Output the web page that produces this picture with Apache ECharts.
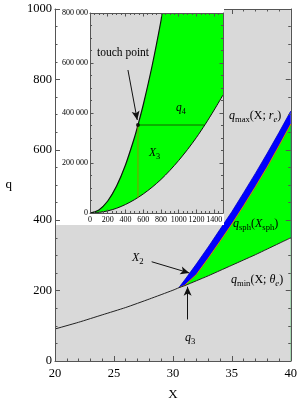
<!DOCTYPE html>
<html><head><meta charset="utf-8">
<script src="https://cdn.jsdelivr.net/npm/echarts@6/dist/echarts.min.js"></script>
<style>html,body{margin:0;padding:0;background:#fff}#c{width:300px;height:406px}</style>
</head><body><div id="c"></div>
<script>
// ---- main chart data ----
const mainXTicks = [20, 25, 30, 35, 40];
const mainQTicks = [0, 200, 400, 600, 800, 1000];
const mainX = [20, 22, 24, 26, 28, 30, 30.5, 31, 32, 33, 34, 35, 36, 37, 38, 39, 40];
const qMin  = [91, 110, 131, 152, 176, 201, 208, 214, 228, 242, 257, 272, 287, 302, 318, 334, 350];
const bandX = [30.5, 31, 32, 33, 34, 35, 36, 37, 38, 39, 40];
const qMax  = [208, 230, 276, 324, 374, 424, 478, 533, 590, 649, 710];
const qSph  = [208, 215, 246, 292, 340, 389, 441, 495, 551, 611, 673];
const arrowX2 = [[28.2, 282], [31.4, 250]];
const arrowQ3 = [[31.25, 118], [31.25, 211]];
// ---- inset data ----
const insetXTicks = [0, 200, 400, 600, 800, 1000, 1200, 1400];
const insetXMax = 1500;
const insetQTicks = [0, 200000, 400000, 600000, 800000];
const insetUpperX = [0, 100, 200, 300, 400, 500, 541, 600, 700, 800, 812];
const insetUpperQ = [0, 12000, 48000, 108000, 192000, 300000, 352000, 432000, 588000, 768000, 800000];
const insetLowerX = [0, 100, 200, 300, 400, 500, 600, 700, 800, 900, 1000, 1100, 1200, 1300, 1400, 1500];
const insetLowerQ = [0, 2500, 8500, 19000, 34000, 53000, 76000, 103000, 134000, 170000, 210000, 254000, 302000, 355000, 412000, 472000];
const touchPoint = [541, 352000];
const x3BottomQ = 61500;
const q4RightX = 1290;
const arrowTouch = [[428, 572000], [533, 372000]];

const zip = (xs, ys) => xs.map((x, i) => [x, ys[i]]);
const SERIF = 'Liberation Serif';
const GRAY = '#d9d9d9';
const FRAME = '#555';

function rich(fs) {
  return {
    i: {fontFamily: SERIF, fontStyle: 'italic', fontSize: fs, lineHeight: 16, verticalAlign: 'middle', color: '#000'},
    n: {fontFamily: SERIF, fontSize: fs, lineHeight: 16, verticalAlign: 'middle', color: '#000'},
    s: {fontFamily: SERIF, fontSize: fs * 0.72, lineHeight: 9, verticalAlign: 'bottom', color: '#000'},
    si: {fontFamily: SERIF, fontStyle: 'italic', fontSize: fs * 0.72, lineHeight: 9, verticalAlign: 'bottom', color: '#000'}
  };
}
function label(x, y, text, fs) {
  return {type: 'text', x: x, y: y, z: 40, zlevel: 0,
    style: {text: text, rich: rich(fs), align: 'left', verticalAlign: 'middle', textAlign: 'left', textVerticalAlign: 'middle'}};
}

function axisCommon(opts) {
  return Object.assign({
    axisLine: {show: true, onZero: false, lineStyle: {color: FRAME, width: 1}},
    axisTick: {show: true, inside: true, length: 5, lineStyle: {color: FRAME}},
    minorTick: {show: true, length: 2.5, lineStyle: {color: FRAME}},
    splitLine: {show: false},
    minorSplitLine: {show: false}
  }, opts);
}
const mainLabel = {fontFamily: SERIF, fontSize: 12.5, color: '#000'};
const insetLabel = {fontFamily: SERIF, fontSize: 8, color: '#000'};
const insetFmt = v => v === 0 ? '0' : (v / 1000) + ' 000';

const chart = echarts.init(document.getElementById('c'), null, {renderer: 'canvas'});
chart.setOption({
  animation: false,
  backgroundColor: '#fff',
  grid: [
    {left: 55, right: 7, top: 9, bottom: 42, show: true, backgroundColor: GRAY, borderWidth: 0, z: 0},
    {left: 90, right: 77, top: 13, bottom: 193, show: true, backgroundColor: GRAY, borderWidth: 0, z: 10}
  ],
  xAxis: [
    axisCommon({gridIndex: 0, type: 'value', min: mainXTicks[0], max: mainXTicks[mainXTicks.length - 1], interval: 5,
      minorTick: {show: true, splitNumber: 5, length: 2.5, lineStyle: {color: FRAME}},
      axisLabel: Object.assign({margin: 6, formatter: v => String(v)}, mainLabel), z: 6,
      name: 'X', nameLocation: 'middle', nameGap: 27, nameTextStyle: {fontFamily: SERIF, fontSize: 13, color: '#000'}}),
    axisCommon({gridIndex: 0, type: 'value', position: 'top', min: 20, max: 40, interval: 5,
      minorTick: {show: true, splitNumber: 5, length: 2.5, lineStyle: {color: FRAME}},
      axisLabel: {show: false}, z: 6}),
    axisCommon({gridIndex: 1, type: 'value', min: 0, max: insetXMax, interval: 200,
      minorTick: {show: true, splitNumber: 4, length: 2, lineStyle: {color: FRAME}},
      axisTick: {show: true, inside: true, length: 3.5, lineStyle: {color: FRAME}},
      axisLabel: Object.assign({margin: 3, showMaxLabel: false, formatter: v => insetXTicks.includes(v) ? String(v) : ''}, insetLabel), z: 20}),
    axisCommon({gridIndex: 1, type: 'value', position: 'top', min: 0, max: insetXMax, interval: 200,
      minorTick: {show: true, splitNumber: 4, length: 2, lineStyle: {color: FRAME}},
      axisTick: {show: true, inside: true, length: 3.5, lineStyle: {color: FRAME}},
      axisLabel: {show: false}, z: 20})
  ],
  yAxis: [
    axisCommon({gridIndex: 0, type: 'value', min: 0, max: mainQTicks[mainQTicks.length - 1], interval: 200,
      minorTick: {show: true, splitNumber: 4, length: 2.5, lineStyle: {color: FRAME}},
      axisLabel: Object.assign({margin: 3, formatter: v => String(v)}, mainLabel), z: 9,
      name: 'q', nameLocation: 'middle', nameRotate: 0, nameGap: 43, nameTextStyle: {fontFamily: SERIF, fontSize: 13, color: '#000'}}),
    axisCommon({gridIndex: 0, type: 'value', position: 'right', min: 0, max: 1000, interval: 200,
      minorTick: {show: true, splitNumber: 4, length: 2.5, lineStyle: {color: FRAME}},
      axisLabel: {show: false}, z: 6}),
    axisCommon({gridIndex: 1, type: 'value', min: 0, max: 800000, interval: 200000,
      minorTick: {show: true, splitNumber: 4, length: 2, lineStyle: {color: FRAME}},
      axisTick: {show: true, inside: true, length: 3.5, lineStyle: {color: FRAME}},
      axisLabel: Object.assign({margin: 2, formatter: insetFmt}, insetLabel), z: 20}),
    axisCommon({gridIndex: 1, type: 'value', position: 'right', min: 0, max: 800000, interval: 200000,
      minorTick: {show: true, splitNumber: 4, length: 2, lineStyle: {color: FRAME}},
      axisTick: {show: true, inside: true, length: 3.5, lineStyle: {color: FRAME}},
      axisLabel: {show: false}, z: 20})
  ],
  graphic: {elements: [
    {type: 'rect', z: 8, shape: {x: 56, y: 0, width: 168, height: 225}, style: {fill: '#fff'}},
    label(97, 53, '{n|touch point}', 11.5),
    label(176, 108, '{i|q}{s|4}', 11.5),
    label(149, 153, '{i|X}{s|3}', 11.5),
    label(229, 116, '{i|q}{s|max}{n|(X; }{i|r}{si|e}{n|)}', 12),
    label(233, 224, '{i|q}{s|sph}{n|(}{i|X}{s|sph}{n|)}', 12),
    label(231, 280, '{i|q}{s|min}{n|(X; }{i|θ}{si|e}{n|)}', 12),
    label(132, 258, '{i|X}{s|2}', 12),
    label(185, 338, '{i|q}{s|3}', 12)
  ]},
  series: [
    // main chart
    {type: 'line', xAxisIndex: 0, yAxisIndex: 0, data: zip(bandX, qMax), showSymbol: false, symbol: 'none',
      lineStyle: {width: 0.8, color: '#0000cc'}, areaStyle: {color: '#0000ff', opacity: 1}, z: 2},
    {type: 'line', xAxisIndex: 0, yAxisIndex: 0, data: zip(bandX, qSph), showSymbol: false, symbol: 'none',
      lineStyle: {width: 1, color: '#e07800'}, areaStyle: {color: '#00ff00', opacity: 1}, z: 3},
    {type: 'line', xAxisIndex: 0, yAxisIndex: 0, data: zip(mainX, qMin), showSymbol: false, symbol: 'none', smooth: 0.2,
      lineStyle: {width: 1, color: '#222'}, areaStyle: {color: GRAY, opacity: 1}, z: 4,
      markLine: {z: 30, silent: true, symbol: ['none', 'arrow'], symbolSize: [6, 9], animation: false, label: {show: false},
        lineStyle: {color: '#111', width: 1, type: 'solid'},
        data: [
          [{coord: arrowX2[0]}, {coord: arrowX2[1]}],
          [{coord: arrowQ3[0]}, {coord: arrowQ3[1]}]
        ]}},
    // inset
    {type: 'line', xAxisIndex: 2, yAxisIndex: 2, data: zip(insetUpperX, insetUpperQ).concat([[insetXMax, 800000]]),
      showSymbol: false, symbol: 'none', lineStyle: {width: 0}, areaStyle: {color: '#00ff00', opacity: 1}, z: 12},
    {type: 'line', xAxisIndex: 2, yAxisIndex: 2, data: zip(insetLowerX, insetLowerQ), showSymbol: false, symbol: 'none', smooth: 0.3,
      lineStyle: {width: 1, color: '#111'}, areaStyle: {color: GRAY, opacity: 1}, z: 13},
    {type: 'line', xAxisIndex: 2, yAxisIndex: 2, data: zip(insetUpperX, insetUpperQ), showSymbol: false, symbol: 'none', smooth: 0.3,
      lineStyle: {width: 1.2, color: '#111'}, z: 14,
      markLine: {z: 30, silent: true, symbol: ['none', 'arrow'], symbolSize: [6, 9], animation: false, label: {show: false},
        lineStyle: {color: '#111', width: 1, type: 'solid'},
        data: [[{coord: arrowTouch[0]}, {coord: arrowTouch[1]}]]}},
    {type: 'line', xAxisIndex: 2, yAxisIndex: 2, data: [touchPoint, [touchPoint[0], x3BottomQ]], showSymbol: false, symbol: 'none',
      lineStyle: {width: 0.8, color: '#b07a00'}, z: 15},
    {type: 'line', xAxisIndex: 2, yAxisIndex: 2, data: [touchPoint, [q4RightX, touchPoint[1]]], showSymbol: false, symbol: 'none',
      lineStyle: {width: 0.8, color: '#1a3a00'}, z: 15},
    {type: 'scatter', xAxisIndex: 2, yAxisIndex: 2, data: [touchPoint], symbolSize: 4, itemStyle: {color: '#000'}, z: 16}
  ]
});
</script></body></html>
